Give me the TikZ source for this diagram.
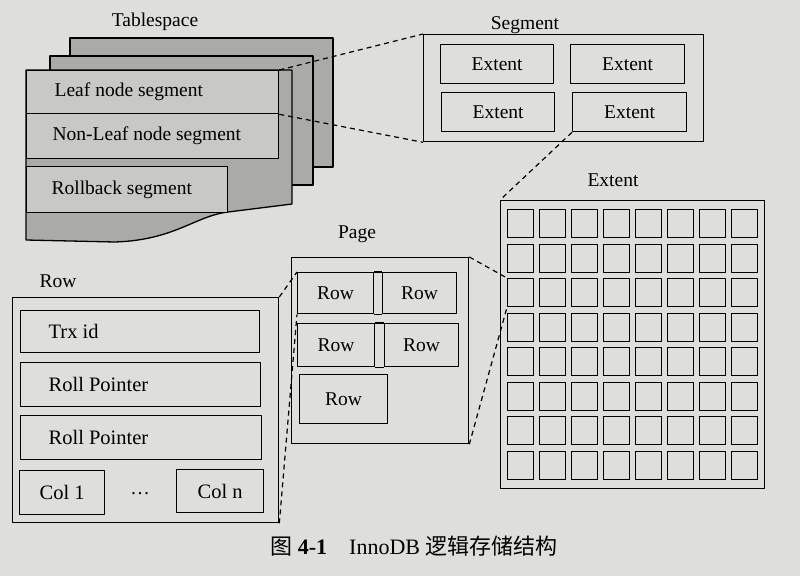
\documentclass[tikz,border=0pt]{standalone}
\usepackage{fontspec}
\setmainfont{Liberation Serif}
\newfontfamily\cjk{Noto Sans CJK SC}
\usetikzlibrary{positioning}
\definecolor{paper}{RGB}{222,222,219}
\definecolor{sheet}{RGB}{170,170,168}
\definecolor{band}{RGB}{200,200,197}
\tikzset{
  lbl/.style={font=\fontsize{19.5}{22}\selectfont, inner sep=0pt},
  box/.style={draw, line width=1.3pt, inner sep=0pt, anchor=north west,
    font=\fontsize{19.5}{22}\selectfont},
  cell/.style={box, minimum width=26pt, minimum height=28pt},
  zoomline/.style={line width=1.2pt, dash pattern=on 5pt off 4pt},
}

\begin{document}
\begin{tikzpicture}[x=1pt, y=-1pt, line join=round, line width=1.3pt]
  \fill[paper] (0,0) rectangle (800,576);
  \useasboundingbox (0,0) rectangle (800,576);

  % Tablespace
  \node[lbl] (tsl) at (155,22) {Tablespace};
  \draw[fill=sheet] (70,38) rectangle (333,167);
  \draw[fill=sheet] (50,56) rectangle (313,185);
  \draw[fill=sheet] (26,70) -- (292,70) -- (292,204) -- (228,212)
    .. controls (195,216) and (175,240) .. (115,242) -- (26,240) -- cycle;
  \node[box, fill=band, minimum width=252pt, minimum height=43pt] (leaf) at (26,70) {};
  \node[box, fill=band, minimum width=252pt, minimum height=45pt] (nonleaf) at (26,113) {};
  \node[box, fill=band, minimum width=201pt, minimum height=46pt] (rollback) at (26,166) {};
  \node[lbl, anchor=west] at ([xshift=28pt]leaf.west) {Leaf node segment};
  \node[lbl, anchor=west] at ([xshift=26pt]nonleaf.west) {Non-Leaf node segment};
  \node[lbl, anchor=west] at ([xshift=25pt]rollback.west) {Rollback segment};

  % Segment
  \node[lbl] (segl) at (525,25) {Segment};
  \node[box, minimum width=280pt, minimum height=107pt] (seg) at (423,34) {};
  \node[box, minimum width=113pt, minimum height=39pt] (e11) at (440,44) {Extent};
  \node[box, minimum width=114pt, minimum height=39pt] (e12) at (570,44) {Extent};
  \node[box, minimum width=113pt, minimum height=39pt] (e21) at (441,92) {Extent};
  \node[box, minimum width=114pt, minimum height=39pt] (e22) at (572,92) {Extent};
  \draw[zoomline] (leaf.north east) -- (seg.north west);
  \draw[zoomline] (leaf.south east) -- (seg.south west);

  % Extent
  \node[lbl] (extl) at (613,180) {Extent};
  \node[box, minimum width=264pt, minimum height=288pt] (ext) at (500,200) {};
  \foreach \i in {0,...,7}
    \foreach \j in {0,...,7}
      \node[cell] (c\j\i) at (507+32*\i, 209+34.5*\j) {};
  \draw[zoomline] (e22.south west) -- (ext.north west);

  % Page
  \node[lbl] (pagel) at (357,234) {Page};
  \node[box, minimum width=177pt, minimum height=186pt] (page) at (291,257) {};
  \node[box, minimum width=76pt, minimum height=41pt] (r11) at (297,272) {Row};
  \node[box, minimum width=74pt, minimum height=41pt] (r12) at (382,272) {Row};
  \node[box, minimum width=77pt, minimum height=43pt] (r21) at (297,323) {Row};
  \node[box, minimum width=74pt, minimum height=43pt] (r22) at (384,323) {Row};
  \node[box, minimum width=88pt, minimum height=49pt] (r3) at (299,374) {Row};
  \draw (r11.north east) -- (r12.north west) (r11.south east) -- (r12.south west);
  \draw (r21.north east) -- (r22.north west) (r21.south east) -- (r22.south west);
  \draw[zoomline] (page.north east) -- (c20.north west);
  \draw[zoomline] (page.south east) -- (c20.south west);

  % Row
  \node[lbl] (rowl) at (58,281) {Row};
  \node[box, minimum width=266pt, minimum height=225pt] (row) at (12,297) {};
  \node[box, minimum width=239pt, minimum height=42pt] (trx) at (20,310) {};
  \node[box, minimum width=240pt, minimum height=44pt] (roll1) at (20,362) {};
  \node[box, minimum width=241pt, minimum height=44pt] (roll2) at (20,415) {};
  \node[box, minimum width=85pt, minimum height=44pt, font=\fontsize{20.5}{23}\selectfont] (col1) at (19,470) {Col 1};
  \node[box, minimum width=87pt, minimum height=43pt, font=\fontsize{20.5}{23}\selectfont] (coln) at (176,469) {Col n};
  \node[lbl, font=\fontsize{20.5}{23}\selectfont, anchor=west] at ([xshift=28pt]trx.west) {Trx id};
  \node[lbl, font=\fontsize{20.5}{23}\selectfont, anchor=west] at ([xshift=28pt]roll1.west) {Roll Pointer};
  \node[lbl, font=\fontsize{20.5}{23}\selectfont, anchor=west] at ([xshift=28pt]roll2.west) {Roll Pointer};
  \node[lbl] (dots) at (140,494) {\dots};
  \draw[zoomline] (row.north east) -- (r11.north west);
  \draw[zoomline] (row.south east) -- (r11.south west);

  % caption
  \node[font=\fontsize{22}{25}\selectfont, inner sep=0pt] (cap) at (414,546)
    {{\cjk 图} \textbf{4-1}\hspace{1em}InnoDB {\cjk 逻辑存储结构}};
\end{tikzpicture}
\end{document}
